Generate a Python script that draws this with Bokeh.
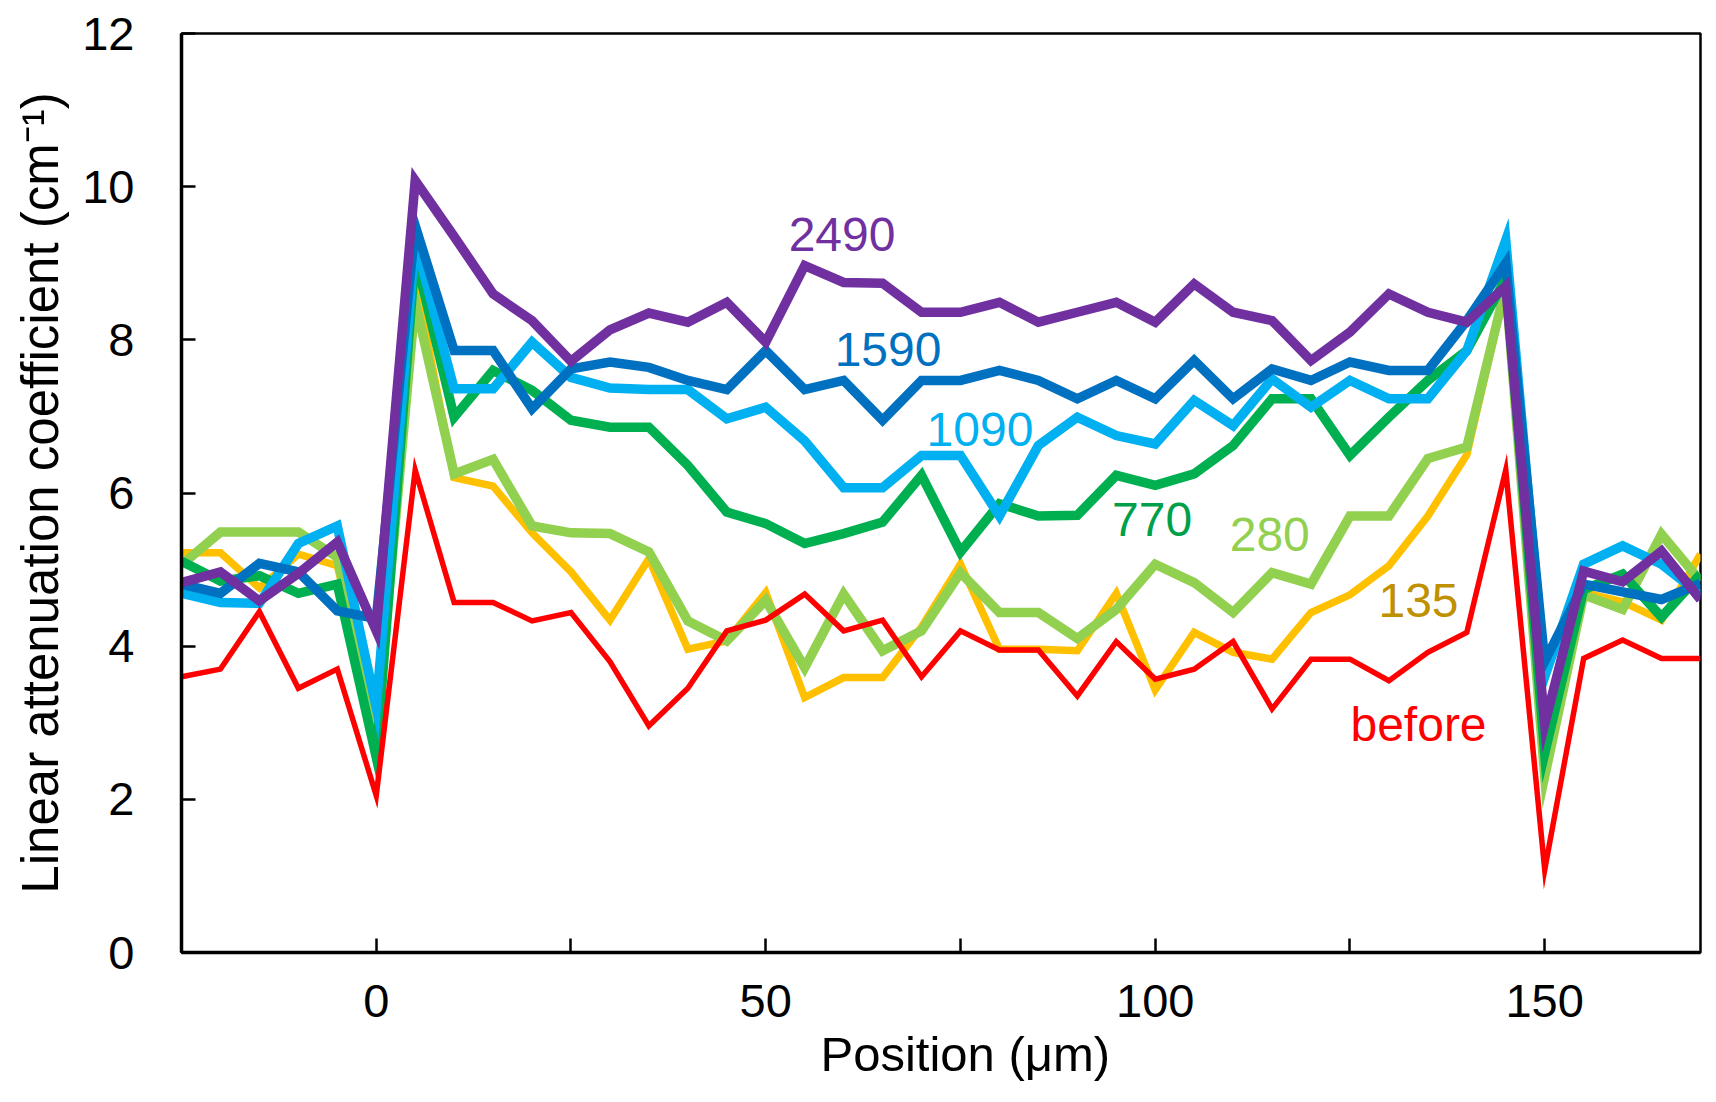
from bokeh.plotting import figure
from bokeh.models import Range1d, FixedTicker, Label, Title
from bokeh.embed import file_html
from bokeh.resources import INLINE

# ---- data ----
positions = [-25, -20, -15, -10, -5, 0, 5, 10, 15, 20, 25, 30, 35, 40, 45, 50, 55, 60, 65, 70,
             75, 80, 85, 90, 95, 100, 105, 110, 115, 120, 125, 130, 135, 140, 145, 150, 155, 160, 165, 170]

before = [3.6, 3.7, 4.45, 3.45, 3.7, 2.05, 6.3, 4.57, 4.57, 4.33, 4.44, 3.8, 2.96, 3.45, 4.2, 4.34, 4.68, 4.2, 4.34, 3.6,
          4.2, 3.95, 3.95, 3.35, 4.06, 3.57, 3.7, 4.06, 3.18, 3.83, 3.83, 3.55, 3.92, 4.18, 6.3, 1.08, 3.84, 4.08, 3.84, 3.84]
s135 = [5.22, 5.22, 4.76, 5.2, 5.05, 3.0, 8.8, 6.2, 6.09, 5.48, 4.97, 4.34, 5.14, 3.96, 4.07, 4.7, 3.33, 3.59, 3.59, 4.25,
        5.07, 3.96, 3.96, 3.94, 4.69, 3.43, 4.18, 3.92, 3.83, 4.44, 4.67, 5.05, 5.7, 6.5, 8.7, 2.5, 4.7, 4.58, 4.34, 5.2]
s280 = [5.06, 5.49, 5.49, 5.49, 5.16, 2.85, 8.5, 6.25, 6.44, 5.57, 5.48, 5.47, 5.23, 4.33, 4.07, 4.6, 3.72, 4.68, 3.94, 4.2,
        4.96, 4.44, 4.44, 4.1, 4.48, 5.07, 4.83, 4.44, 4.96, 4.81, 5.7, 5.7, 6.45, 6.6, 8.7, 2.3, 4.67, 4.48, 5.46, 4.85]
s770 = [5.11, 4.85, 4.92, 4.69, 4.81, 2.55, 9.1, 6.99, 7.6, 7.34, 6.95, 6.86, 6.86, 6.36, 5.75, 5.6, 5.34, 5.47, 5.62, 6.23,
        5.23, 5.86, 5.7, 5.71, 6.23, 6.1, 6.25, 6.62, 7.23, 7.23, 6.49, 6.99, 7.47, 7.86, 8.8, 2.6, 4.74, 4.94, 4.38, 4.94]
s1090 = [4.69, 4.57, 4.56, 5.34, 5.57, 3.2, 9.3, 7.36, 7.36, 7.97, 7.51, 7.37, 7.35, 7.35, 6.97, 7.12, 6.68, 6.07, 6.07, 6.49,
         6.49, 5.7, 6.62, 6.99, 6.75, 6.64, 7.21, 6.88, 7.49, 7.12, 7.47, 7.23, 7.23, 7.86, 9.3, 3.6, 5.07, 5.31, 5.07, 4.67]
s1590 = [4.81, 4.69, 5.08, 4.97, 4.46, 4.36, 9.49, 7.86, 7.86, 7.1, 7.62, 7.71, 7.64, 7.47, 7.35, 7.86, 7.35, 7.47, 6.95, 7.47,
         7.47, 7.6, 7.47, 7.23, 7.47, 7.23, 7.73, 7.23, 7.62, 7.47, 7.71, 7.6, 7.6, 8.25, 9.0, 3.8, 4.81, 4.71, 4.61, 4.82]
s2490 = [4.83, 4.97, 4.59, 4.95, 5.36, 4.2, 10.08, 9.35, 8.6, 8.25, 7.72, 8.13, 8.35, 8.23, 8.49, 7.97, 8.97, 8.75, 8.74, 8.36,
         8.36, 8.49, 8.23, 8.36, 8.49, 8.23, 8.73, 8.36, 8.25, 7.73, 8.1, 8.6, 8.36, 8.23, 8.7, 2.98, 4.98, 4.84, 5.24, 4.61]

series_names = ["135", "280", "770", "1090", "1590", "2490", "before"]
series_values = [s135, s280, s770, s1090, s1590, s2490, before]
line_colors = ["#FFC000", "#92D050", "#00B050", "#00B0F0", "#0070C0", "#7030A0", "#FF0000"]
line_widths = [7.5, 9.5, 9.5, 9.5, 9.5, 9.5, 5.5]

label_texts = ["2490", "1590", "1090", "770", "280", "135", "before"]
label_x = [59.8, 65.7, 77.5, 99.6, 114.7, 133.8, 133.8]
label_y = [9.38, 7.88, 6.83, 5.65, 5.46, 4.6, 2.98]
label_colors = ["#7030A0", "#0070C0", "#00B0F0", "#00A04A", "#92D050", "#BF9000", "#FF0000"]

x_major = [0, 50, 100, 150]
x_minor = [25, 75, 125]
y_ticks = [0, 2, 4, 6, 8, 10, 12]

x_title = "Position (μm)"
y_title = "Linear attenuation coefficient (cm⁻¹)"

FONT = "Liberation Sans"

p = figure(width=1708, height=1100,
           x_range=Range1d(-25, 170), y_range=Range1d(0, 12),
           output_backend="svg", toolbar_location=None,
           min_border_left=181, min_border_right=8,
           min_border_top=33, min_border_bottom=148)

p.background_fill_color = "white"
p.border_fill_color = "white"
p.outline_line_color = "black"
p.outline_line_width = 2.5
p.xgrid.visible = False
p.ygrid.visible = False

for name, vals, col, lw in zip(series_names, series_values, line_colors, line_widths):
    p.line(positions, vals, line_color=col, line_width=lw, line_join="miter")

for t, lx, ly, c in zip(label_texts, label_x, label_y, label_colors):
    p.add_layout(Label(x=lx, y=ly, text=t, text_color=c, text_font=FONT,
                       text_font_size="48px", text_align="center",
                       text_baseline="middle"))

xa = p.xaxis[0]
xa.ticker = FixedTicker(ticks=x_major, minor_ticks=x_minor)
ya = p.yaxis[0]
ya.ticker = FixedTicker(ticks=y_ticks, minor_ticks=[])
ya.axis_label = y_title

for ax in (xa, ya):
    ax.axis_line_color = "black"
    ax.axis_line_width = 3.5
    ax.major_tick_in = 14
    ax.major_tick_out = 0
    ax.major_tick_line_width = 2.5
    ax.major_tick_line_color = "black"
    ax.minor_tick_in = 14
    ax.minor_tick_out = 0
    ax.minor_tick_line_width = 2.5
    ax.minor_tick_line_color = "black"
    ax.major_label_text_font = FONT
    ax.major_label_text_font_size = "47px"
    ax.major_label_text_color = "black"
    ax.axis_label_text_font = FONT
    ax.axis_label_text_font_size = "51px"
    ax.axis_label_text_font_style = "normal"
    ax.axis_label_text_color = "black"

xa.major_label_standoff = 32
ya.major_label_standoff = 47
ya.axis_label_standoff = 10

# x-axis title, slightly right of centre as in the original
p.add_layout(Title(text=x_title, align="left", offset=639, standoff=11,
                   text_font=FONT, text_font_size="49px", text_font_style="normal",
                   text_color="black"), "below")

open("out.html", "w").write(file_html(p, INLINE))
